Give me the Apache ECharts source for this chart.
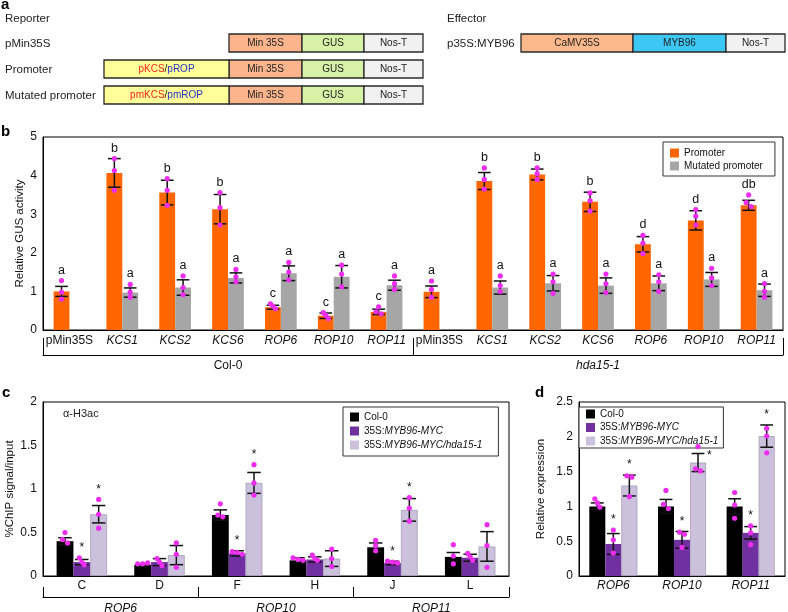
<!DOCTYPE html>
<html><head><meta charset="utf-8">
<script src="https://cdn.jsdelivr.net/npm/echarts@6/dist/echarts.min.js"></script>
<style>html,body{margin:0;padding:0;background:#fff}#chart{width:788px;height:612px}</style>
</head><body><div id="chart"></div>
<script>
const FONT = "'Liberation Sans', Arial, Helvetica, sans-serif";

// ---------- Panel b data ----------
const bCategories = ['pMin35S','KCS1','KCS2','KCS6','ROP6','ROP10','ROP11','pMin35S','KCS1','KCS2','KCS6','ROP6','ROP10','ROP11'];
const bGroups = ['Col-0','hda15-1'];
const bSeriesNames = ['Promoter','Mutated promoter'];
const bPromoter    = [1.00,4.07,3.56,3.13,0.59,0.37,0.47, 0.99,3.86,4.03,3.32,2.22,2.84,3.23];
const bPromoterErr = [0.13,0.37,0.32,0.38,0.05,0.07,0.07, 0.15,0.22,0.14,0.25,0.20,0.25,0.13];
const bMutated     = [null,0.97,1.10,1.35,1.47,1.38,1.16, null,1.10,1.21,1.15,1.21,1.31,1.03];
const bMutatedErr  = [null,0.12,0.20,0.13,0.19,0.29,0.13, null,0.17,0.20,0.20,0.19,0.18,0.16];
const bPromoterLetters = ['a','b','b','b','c','c','c','a','b','b','b','d','d','db'];
const bMutatedLetters  = ['','a','a','a','a','a','a','','a','a','a','a','a','a'];
const bPromoterDots = [
  [1.28,0.98,0.80],[4.44,4.13,3.62],[3.92,3.62,3.23],[3.56,3.17,2.72],[0.68,0.62,0.55],[0.45,0.38,0.30],[0.60,0.47,0.42],
  [1.27,1.05,0.85],[4.20,3.90,3.65],[4.20,4.05,3.90],[3.55,3.35,3.08],[2.45,2.25,1.98],[3.12,2.95,2.72],[3.50,3.30,3.20]
];
const bMutatedDots = [
  null,[1.18,0.98,0.85],[1.40,1.10,0.92],[1.57,1.38,1.25],[1.75,1.50,1.30],[1.68,1.45,1.12],[1.40,1.20,1.05],
  null,[1.40,1.15,1.00],[1.45,1.25,0.95],[1.45,1.20,0.97],[1.43,1.25,1.00],[1.60,1.35,1.15],[1.20,1.00,0.85]
];
const bYTicks = [0,1,2,3,4,5];

// ---------- Panel c data ----------
const cCategories = ['C','D','F','H','J','L'];
const cGenes = ['ROP6','ROP10','ROP11'];
const lineNames = ['Col-0','35S:MYB96-MYC','35S:MYB96-MYC/hda15-1'];
const cCol0    = [0.40,0.13,0.70,0.18,0.33,0.22];
const cCol0Err = [0.04,0.01,0.06,0.03,0.05,0.05];
const cMyc     = [0.16,0.16,0.26,0.19,0.15,0.21];
const cMycErr  = [0.03,0.04,0.03,0.03,0.02,0.04];
const cHda     = [0.71,0.24,1.07,0.20,0.76,0.34];
const cHdaErr  = [0.10,0.11,0.12,0.09,0.13,0.17];
const cCol0Dots = [[0.50,0.42,0.38],[0.14,0.14,0.15],[0.83,0.70,0.68],[0.21,0.19,0.18],[0.41,0.35,0.29],[0.36,0.23,0.14]];
const cMycDots  = [[0.21,0.16,0.13],[0.20,0.16,0.12],[0.28,0.27,0.25],[0.24,0.20,0.18],[0.17,0.16,0.15],[0.26,0.22,0.18]];
const cHdaDots  = [[0.88,0.71,0.55],[0.38,0.25,0.10],[1.28,1.07,0.93],[0.31,0.20,0.11],[0.90,0.78,0.63],[0.59,0.35,0.10]];
const cMycStars = ['*','','*','','*',''];
const cHdaStars = ['*','','*','','*',''];

// ---------- Panel d data ----------
const dGenes = ['ROP6','ROP10','ROP11'];
const dCol0    = [1.00,1.00,1.00];
const dCol0Err = [0.05,0.10,0.11];
const dMyc     = [0.46,0.52,0.62];
const dMycErr  = [0.15,0.12,0.09];
const dHda     = [1.30,1.63,2.01];
const dHdaErr  = [0.15,0.13,0.16];
const dCol0Dots = [[1.11,1.05,0.99],[1.23,1.03,0.97],[1.20,1.02,0.83]];
const dMycDots  = [[0.66,0.52,0.33],[0.63,0.60,0.41],[0.72,0.62,0.45]];
const dHdaDots  = [[1.44,1.42,1.14],[1.86,1.54,1.51],[2.12,2.01,1.77]];
const dMycStars = ['*','*','*'];
const dHdaStars = ['*','*','*'];
const dHdaStarSide = ['top','right','top'];

// ---------- colours ----------
const C_ORANGE = '#FF6600', C_GRAY = '#A6A6A6', C_BLACK = '#000000', C_PURPLE = '#7030A0', C_LAV = '#CBC1DD';
const C_DOT = '#EE2EEE';

function slotX(api, cat, slot, nSlots, gap) {
  const band = api.size([1, 0])[0];
  const cx = api.coord([cat, 0])[0];
  const total = band * (1 - gap);
  const bw = total / nSlots;
  return { x: cx - total / 2 + bw * (slot + 0.5), bw };
}

function overlaySeries(xi, yi, nSlots, gap, sets, markSize) {
  const errData = [], metas = [], dotData = [];
  sets.forEach((s, si) => {
    s.means.forEach((m, ci) => {
      if (m == null) return;
      const dots = s.dots[ci] || [];
      const top = Math.max(m + s.errs[ci], ...dots);
      errData.push([ci, si, m, s.errs[ci], top]);
      metas.push({ mark: s.marks ? s.marks[ci] : '', side: s.sides ? s.sides[ci] : 'top' });
      dots.forEach((v, k) => dotData.push([ci, si, v, k]));
    });
  });
  const errSeries = {
    type: 'custom', xAxisIndex: xi, yAxisIndex: yi, z: 5, silent: true,
    encode: { x: 0, y: 2 }, data: errData,
    renderItem(params, api) {
      const cat = api.value(0), si = api.value(1), m = api.value(2), e = api.value(3), top = api.value(4);
      const { x, bw } = slotX(api, cat, si, nSlots, gap);
      const yT = api.coord([cat, m + e])[1], yB = api.coord([cat, m - e])[1];
      const cw = bw * 0.4;
      const ls = { stroke: '#111', lineWidth: 1.5 };
      const children = [
        { type: 'line', shape: { x1: x, y1: yT, x2: x, y2: yB }, style: ls },
        { type: 'line', shape: { x1: x - cw, y1: yT, x2: x + cw, y2: yT }, style: ls },
        { type: 'line', shape: { x1: x - cw, y1: yB, x2: x + cw, y2: yB }, style: ls }
      ];
      const meta = metas[params.dataIndex];
      if (meta && meta.mark) {
        if (meta.side === 'right') {
          children.push({ type: 'text', style: { text: meta.mark, x: x + bw / 2 + 1, y: yT + 2, align: 'left', verticalAlign: 'middle', fill: '#111', fontSize: markSize, fontFamily: FONT } });
        } else {
          const yTop = Math.min(yT, api.coord([cat, top])[1]);
          children.push({ type: 'text', style: { text: meta.mark, x: x, y: yTop - 4, align: 'center', verticalAlign: 'bottom', fill: '#111', fontSize: markSize, fontFamily: FONT } });
        }
      }
      return { type: 'group', children };
    }
  };
  const dotSeries = {
    type: 'custom', xAxisIndex: xi, yAxisIndex: yi, z: 6, silent: true,
    encode: { x: 0, y: 2 }, data: dotData,
    renderItem(params, api) {
      const cat = api.value(0), si = api.value(1), k = api.value(3);
      const { x } = slotX(api, cat, si, nSlots, gap);
      const all = sets[si].dots[cat];
      const ys = all.map(val => api.coord([cat, val])[1]);
      const y = ys[k];
      const grp = [];
      ys.forEach((yy, j) => { if (Math.abs(yy - y) < 4.5) grp.push(j); });
      let dx = 0;
      if (grp.length > 1) dx = (grp.indexOf(k) - (grp.length - 1) / 2) * 5;
      return { type: 'circle', shape: { cx: x + dx, cy: y, r: 2.6 }, style: { fill: C_DOT } };
    }
  };
  return [errSeries, dotSeries];
}

const italicItem = v => ({ value: v, textStyle: { fontStyle: 'italic' } });
const axisTxt = { color: '#111', fontSize: 12, fontFamily: FONT };

// ---------- Panel a (schematic) ----------
const g = [];
function txt(x, y, text, opt) {
  g.push({ type: 'text', style: Object.assign({ text, x, y, fill: '#222', fontSize: 11.5, fontFamily: FONT, align: 'left', verticalAlign: 'middle' }, opt || {}) });
}
function box(x1, x2, y, fill, text, rich) {
  g.push({ type: 'rect', shape: { x: x1, y: y, width: x2 - x1, height: 18 }, style: { fill, stroke: '#2a2a2a', lineWidth: 1.3 } });
  const st = { text, x: (x1 + x2) / 2, y: y + 9.5, align: 'center', verticalAlign: 'middle', fill: '#222', fontSize: 10, fontFamily: FONT };
  if (rich) st.rich = rich;
  g.push({ type: 'text', style: st });
}
const richPK = { r: { fill: '#F0241C', color: '#F0241C', fontSize: 10, fontFamily: FONT }, k: { fill: '#222', color: '#222', fontSize: 10, fontFamily: FONT }, u: { fill: '#2233C8', color: '#2233C8', fontSize: 10, fontFamily: FONT } };
txt(1, 5, 'a', { fontWeight: 'bold', fontSize: 15, fill: '#000' });
txt(5, 19, 'Reporter');
const rowY = [34, 60, 86];
const rowLabels = ['pMin35S', 'Promoter', 'Mutated promoter'];
rowLabels.forEach((l, i) => txt(5, rowY[i] + 9.5, l));
rowY.forEach(y => {
  box(229, 302, y, '#FBB48B', 'Min 35S');
  box(302, 364, y, '#D7F2A7', 'GUS');
  box(364, 423, y, '#F1F1F1', 'Nos-T');
});
box(104, 229, 60, '#FFFF99', '{r|pKCS}{k|/}{u|pROP}', richPK);
box(104, 229, 86, '#FFFF99', '{r|pmKCS}{k|/}{u|pmROP}', richPK);
txt(447, 19, 'Effector');
txt(447, 43.5, 'p35S:MYB96');
box(521, 633, 34, '#FDB88B', 'CaMV35S');
box(633, 726, 34, '#3DC7F4', 'MYB96');
box(726, 785, 34, '#F1F1F1', 'Nos-T');
txt(1, 132, 'b', { fontWeight: 'bold', fontSize: 15, fill: '#000' });
txt(2, 393, 'c', { fontWeight: 'bold', fontSize: 15, fill: '#000' });
txt(535, 393, 'd', { fontWeight: 'bold', fontSize: 15, fill: '#000' });
txt(63, 414, 'α-H3ac', { fontSize: 11 });

// ---------- option ----------
const legendRich = { i: { fontStyle: 'italic', fontSize: 10, fontFamily: FONT, color: '#111' } };
const legendFmt = n => { const m = n.match(/^35S:(.*)$/); return m ? '35S:{i|' + m[1] + '}' : n; };

const bGap = 0.4, cGap = 0.35, dGap = 0.3;
const lavStyle = { color: C_LAV, borderColor: '#A79DB6', borderWidth: 0.8 };

const series = [
  { name: bSeriesNames[0], type: 'bar', xAxisIndex: 0, yAxisIndex: 0, data: bPromoter, barGap: '0%', barCategoryGap: (bGap * 100) + '%', itemStyle: { color: C_ORANGE }, z: 2 },
  { name: bSeriesNames[1], type: 'bar', xAxisIndex: 0, yAxisIndex: 0, data: bMutated, barGap: '0%', barCategoryGap: (bGap * 100) + '%', itemStyle: { color: C_GRAY }, z: 2 },
  ...overlaySeries(0, 0, 2, bGap, [
    { means: bPromoter, errs: bPromoterErr, dots: bPromoterDots, marks: bPromoterLetters },
    { means: bMutated, errs: bMutatedErr, dots: bMutatedDots, marks: bMutatedLetters }
  ], 12.5),
  { name: lineNames[0], type: 'bar', xAxisIndex: 2, yAxisIndex: 1, data: cCol0, barGap: '0%', barCategoryGap: (cGap * 100) + '%', itemStyle: { color: C_BLACK }, z: 2 },
  { name: lineNames[1], type: 'bar', xAxisIndex: 2, yAxisIndex: 1, data: cMyc, barGap: '0%', barCategoryGap: (cGap * 100) + '%', itemStyle: { color: C_PURPLE }, z: 2 },
  { name: lineNames[2], type: 'bar', xAxisIndex: 2, yAxisIndex: 1, data: cHda, barGap: '0%', barCategoryGap: (cGap * 100) + '%', itemStyle: lavStyle, z: 2 },
  ...overlaySeries(2, 1, 3, cGap, [
    { means: cCol0, errs: cCol0Err, dots: cCol0Dots },
    { means: cMyc, errs: cMycErr, dots: cMycDots, marks: cMycStars },
    { means: cHda, errs: cHdaErr, dots: cHdaDots, marks: cHdaStars }
  ], 12),
  { name: lineNames[0], type: 'bar', xAxisIndex: 4, yAxisIndex: 2, data: dCol0, barGap: '0%', barCategoryGap: (dGap * 100) + '%', itemStyle: { color: C_BLACK }, z: 2 },
  { name: lineNames[1], type: 'bar', xAxisIndex: 4, yAxisIndex: 2, data: dMyc, barGap: '0%', barCategoryGap: (dGap * 100) + '%', itemStyle: { color: C_PURPLE }, z: 2 },
  { name: lineNames[2], type: 'bar', xAxisIndex: 4, yAxisIndex: 2, data: dHda, barGap: '0%', barCategoryGap: (dGap * 100) + '%', itemStyle: lavStyle, z: 2 },
  ...overlaySeries(4, 2, 3, dGap, [
    { means: dCol0, errs: dCol0Err, dots: dCol0Dots },
    { means: dMyc, errs: dMycErr, dots: dMycDots, marks: dMycStars },
    { means: dHda, errs: dHdaErr, dots: dHdaDots, marks: dHdaStars, sides: dHdaStarSide }
  ], 12)
];

const mainX = (gi, data, margin) => ({
  type: 'category', gridIndex: gi, position: 'bottom', data,
  axisLine: { lineStyle: { color: '#000', width: 1 } }, axisTick: { show: false },
  axisLabel: Object.assign({ interval: 0, margin }, axisTxt)
});
const groupX = (gi, data, offset, tickLen, margin) => ({
  type: 'category', gridIndex: gi, position: 'bottom', offset, data,
  axisLine: { lineStyle: { color: '#000', width: 1 } },
  axisTick: { show: true, inside: true, length: tickLen, interval: 0, lineStyle: { color: '#000', width: 1 } },
  axisLabel: Object.assign({ interval: 0, margin }, axisTxt)
});
const valY = (gi, max, interval, name, nameGap) => ({
  type: 'value', gridIndex: gi, min: 0, max, interval,
  axisLine: { show: true, lineStyle: { color: '#000', width: 1 } }, axisTick: { show: false },
  splitLine: { show: false },
  axisLabel: Object.assign({ margin: 6 }, axisTxt),
  name, nameLocation: 'middle', nameGap, nameMoveOverlap: false,
  nameTextStyle: { color: '#111', fontSize: 11.5, fontFamily: FONT }
});
const legendBase = { orient: 'vertical', icon: 'rect', itemWidth: 9, itemHeight: 9,
  borderColor: '#333', borderWidth: 1, backgroundColor: '#fff', itemStyle: { borderWidth: 0 } };

const option = {
  animation: false,
  backgroundColor: '#ffffff',
  textStyle: { fontFamily: FONT },
  grid: [
    { left: 43, top: 137, width: 740, height: 193, show: true, borderColor: '#000', borderWidth: 1, containLabel: false, outerBoundsMode: 'none' },
    { left: 43, top: 402, width: 466, height: 174, show: true, borderColor: '#000', borderWidth: 1, containLabel: false, outerBoundsMode: 'none' },
    { left: 579, top: 402, width: 206, height: 174, show: true, borderColor: '#000', borderWidth: 1, containLabel: false, outerBoundsMode: 'none' }
  ],
  xAxis: [
    mainX(0, bCategories.map(c => c === 'pMin35S' ? c : italicItem(c)), 5),
    groupX(0, bGroups.map(c => c === 'Col-0' ? c : italicItem(c)), 25, 17, 5),
    mainX(1, cCategories, 4),
    groupX(1, cGenes.map(italicItem), 21, 10, 6),
    mainX(2, dGenes.map(italicItem), 4)
  ],
  yAxis: [
    valY(0, bYTicks[bYTicks.length - 1], 1, 'Relative GUS activity', 17),
    valY(1, 2, 0.5, '%ChIP signal/input', 27),
    valY(2, 2.5, 0.5, 'Relative expression', 32)
  ],
  legend: [
    Object.assign({}, legendBase, { data: bSeriesNames, left: 663, top: 142, itemGap: 3, padding: [6, 12, 5, 7],
      textStyle: { fontSize: 10, fontFamily: FONT, color: '#111' } }),
    Object.assign({}, legendBase, { data: lineNames, left: 343, top: 407, itemGap: 4, padding: [5, 16, 6, 7],
      formatter: legendFmt, textStyle: { fontSize: 10, fontFamily: FONT, color: '#111', rich: legendRich } }),
    Object.assign({}, legendBase, { data: lineNames, left: 579, top: 407, itemGap: 3.5, padding: [2, 5, 2, 7],
      formatter: legendFmt, textStyle: { fontSize: 10, fontFamily: FONT, color: '#111', rich: legendRich } })
  ],
  graphic: g,
  series
};

const chart = echarts.init(document.getElementById('chart'), null, { renderer: 'canvas' });
chart.setOption(option);
</script>
</body></html>
